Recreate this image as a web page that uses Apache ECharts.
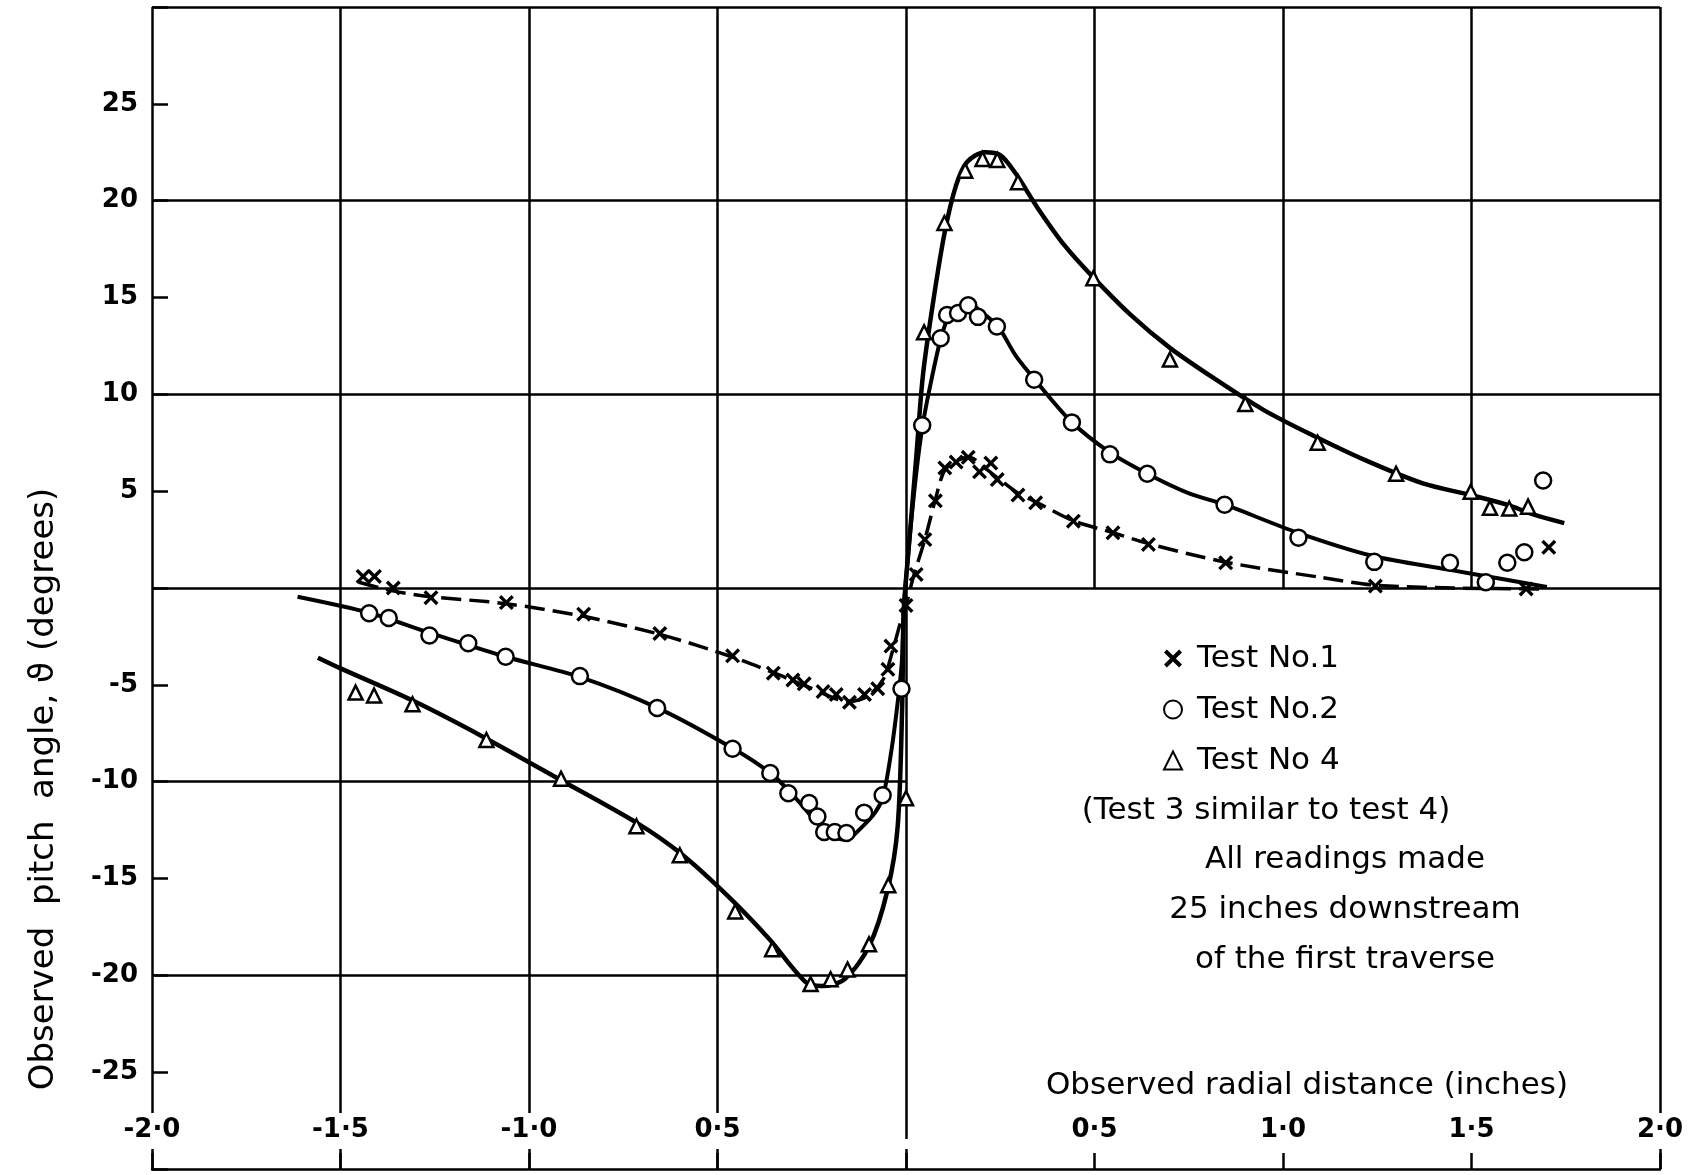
<!DOCTYPE html>
<html>
<head>
<meta charset="utf-8">
<title>Observed pitch angle</title>
<script src="https://cdn.jsdelivr.net/npm/echarts@6/dist/echarts.min.js"></script>
<style>
  html, body { margin: 0; padding: 0; background: #fff; }
  #main { width: 1706px; height: 1175px; }
</style>
</head>
<body>
<div id="main"></div>
<script>
// ---- data (x in inches, y in degrees) ----
var test1Points = [[-1.44,0.6],[-1.41,0.6],[-1.36,0.0],[-1.26,-0.5],[-1.06,-0.75],[-0.855,-1.35],[-0.653,-2.35],
  [-0.46,-3.5],[-0.352,-4.4],[-0.30,-4.75],[-0.27,-4.95],[-0.22,-5.35],[-0.185,-5.5],[-0.15,-5.9],[-0.11,-5.5],
  [-0.075,-5.2],[-0.048,-4.2],[-0.04,-3.0],[0.0,-0.9],[0.027,0.7],[0.05,2.5],[0.078,4.5],[0.103,6.2],[0.133,6.5],
  [0.165,6.75],[0.195,6.0],[0.225,6.45],[0.242,5.6],[0.297,4.8],[0.344,4.4],[0.444,3.45],[0.549,2.85],[0.643,2.25],
  [0.848,1.3],[1.245,0.1],[1.645,-0.05],[1.705,2.1]];
var test2Points = [[-1.424,-1.3],[-1.372,-1.55],[-1.264,-2.45],[-1.161,-2.85],[-1.062,-3.55],[-0.865,-4.55],
  [-0.66,-6.2],[-0.46,-8.3],[-0.36,-9.55],[-0.312,-10.6],[-0.257,-11.1],[-0.235,-11.8],[-0.217,-12.6],[-0.189,-12.6],
  [-0.158,-12.65],[-0.111,-11.6],[-0.062,-10.7],[-0.012,-5.2],[0.043,8.4],[0.092,12.9],[0.109,14.1],[0.138,14.2],
  [0.165,14.6],[0.191,14.0],[0.241,13.5],[0.34,10.75],[0.44,8.55],[0.541,6.9],[0.64,5.9],[0.845,4.3],[1.041,2.6],
  [1.242,1.35],[1.443,1.3],[1.538,0.3],[1.595,1.3],[1.64,1.85],[1.69,5.55]];
var test4Points = [[-1.46,-5.4],[-1.411,-5.55],[-1.309,-6.0],[-1.113,-7.85],[-0.915,-9.85],[-0.715,-12.3],[-0.6,-13.8],
  [-0.453,-16.7],[-0.355,-18.65],[-0.253,-20.45],[-0.2,-20.2],[-0.155,-19.7],[-0.098,-18.4],[-0.047,-15.35],[0.0,-10.85],
  [0.048,13.2],[0.102,18.85],[0.157,21.55],[0.203,22.15],[0.242,22.1],[0.297,20.95],[0.497,16.0],[0.70,11.8],
  [0.90,9.5],[1.092,7.5],[1.30,5.9],[1.498,4.97],[1.549,4.14],[1.60,4.1],[1.65,4.2]];

// hand-faired curves
var test1Curve = [[-1.451,0.3],[-1.361,-0.15],[-1.261,-0.45],[-1.065,-0.8],[-0.859,-1.45],[-0.652,-2.4],[-0.462,-3.55],
  [-0.348,-4.4],[-0.255,-5.15],[-0.152,-5.85],[-0.103,-5.6],[-0.06,-4.7],[-0.035,-3.2],[-0.015,-1.8],[0,-0.9],
  [0.02,0.6],[0.05,2.5],[0.077,4.5],[0.103,6.1],[0.138,6.6],[0.168,6.75],[0.209,6.2],[0.242,5.7],[0.297,4.9],
  [0.344,4.45],[0.444,3.47],[0.549,2.86],[0.643,2.29],[0.849,1.33],[1.10,0.55],[1.242,0.15],[1.453,0.0],[1.70,-0.05]];
var test2Curve = [[-1.614,-0.45],[-1.424,-1.28],[-1.266,-2.3],[-1.062,-3.55],[-0.864,-4.6],[-0.658,-6.2],[-0.462,-8.25],
  [-0.357,-9.6],[-0.288,-10.95],[-0.234,-12.15],[-0.19,-12.85],[-0.158,-13.0],[-0.125,-12.5],[-0.082,-11.6],
  [-0.06,-10.7],[-0.038,-8.3],[-0.022,-5.9],[-0.011,-3.8],[-0.006,-1.2],[0.006,1.8],[0.027,5.9],[0.045,8.5],
  [0.068,10.8],[0.092,12.85],[0.115,14.1],[0.144,14.5],[0.168,14.7],[0.197,14.3],[0.244,13.5],[0.291,12.0],
  [0.34,10.8],[0.438,8.6],[0.541,7.0],[0.64,5.9],[0.749,4.9],[0.846,4.3],[1.04,2.85],[1.239,1.65],[1.439,0.95],
  [1.57,0.5],[1.70,0.05]];
var test4Curve = [[-1.56,-3.6],[-1.5,-4.15],[-1.31,-5.8],[-1.125,-7.65],[-0.908,-10.0],[-0.712,-12.15],[-0.598,-13.7],
  [-0.473,-15.9],[-0.364,-18.1],[-0.266,-20.35],[-0.223,-20.55],[-0.163,-20.2],[-0.098,-18.5],[-0.049,-15.6],
  [-0.022,-12.3],[-0.01,-6.0],[-0.006,-1.2],[0.006,1.8],[0.027,6.7],[0.045,11.0],[0.073,14.9],[0.103,18.4],
  [0.133,20.8],[0.162,22.0],[0.209,22.5],[0.25,22.35],[0.291,21.4],[0.35,19.6],[0.42,17.7],[0.496,16.05],
  [0.596,14.1],[0.70,12.4],[0.819,10.8],[0.948,9.2],[1.077,7.9],[1.218,6.6],[1.371,5.4],[1.498,4.8],[1.594,4.3],
  [1.664,3.8],[1.746,3.35]];

var xTicks = [-2, -1.5, -1, -0.5, 0, 0.5, 1, 1.5, 2];
var xTickText = ['-2·0', '-1·5', '-1·0', '0·5', '', '0·5', '1·0', '1·5', '2·0'];

// ruled lines of the graph paper
var fullRows = [30, 20, 10, 0];
var leftRows = [-10, -20];
var fullCols = [-2, -1.5, -1, -0.5, 0, 2];
var upperCols = [0.5, 1, 1.5];

var legendNames = ['Test No.1', 'Test No.2', 'Test No 4'];
var noteLines = ['All readings made', '25 inches downstream', 'of the first traverse'];

var FONT = '"DejaVu Sans", sans-serif';
var crossPath = 'path://M0,1.6 L1.6,0 L5,3.4 L8.4,0 L10,1.6 L6.6,5 L10,8.4 L8.4,10 L5,6.6 L1.6,10 L0,8.4 L3.4,5 Z';

var rules = [];
fullRows.forEach(function (y) { rules.push({ coords: [[-2, y], [2, y]] }); });
leftRows.forEach(function (y) { rules.push({ coords: [[-2, y], [0, y]] }); });
fullCols.forEach(function (x) { rules.push({ coords: [[x, -30], [x, 30]] }); });
upperCols.forEach(function (x) { rules.push({ coords: [[x, 0], [x, 30]] }); });

var chart = echarts.init(document.getElementById('main'));

var option = {
    backgroundColor: '#fff',
    animation: false,
    grid: { left: 152, right: 46, top: 7, bottom: 6 },
    xAxis: {
        type: 'value', min: -2, max: 2, interval: 0.5, z: 5,
        axisLine: { show: true, onZero: false, lineStyle: { color: '#000', width: 2.5 } },
        axisTick: { show: true, inside: true, length: 16, lineStyle: { color: '#000', width: 2.5 } },
        splitLine: { show: false },
        axisLabel: {
            inside: true, margin: 20, color: '#000', fontSize: 26, fontWeight: 'bold', fontFamily: FONT,
            backgroundColor: '#fff', padding: [4, 4, 6, 4],
            showMinLabel: true, showMaxLabel: true,
            formatter: function (v) {
                var i = xTicks.indexOf(Math.round(v * 10) / 10);
                return i < 0 ? '' : xTickText[i];
            }
        }
    },
    yAxis: {
        type: 'value', min: -30, max: 30, interval: 5, z: 5,
        axisLine: { show: false, onZero: false },
        axisTick: { show: true, inside: true, length: 16, lineStyle: { color: '#000', width: 2.5 } },
        splitLine: { show: false },
        axisLabel: {
            margin: 14, color: '#000', fontSize: 26, fontWeight: 'bold', fontFamily: FONT,
            formatter: function (v) {
                if (v === 0 || Math.abs(v) === 30) return '';
                return String(v);
            }
        }
    },
    legend: {
        orient: 'vertical', left: 1158, top: 638,
        itemWidth: 18, itemHeight: 18, itemGap: 20,
        textStyle: { fontSize: 31, fontFamily: FONT, color: '#000', padding: [0, 0, 0, 10] },
        data: legendNames
    },
    graphic: [
        {
            type: 'text', x: 44, y: 789, rotation: Math.PI / 2,
            style: { text: 'Observed  pitch  angle, ϑ (degrees)', font: '34px ' + FONT, fill: '#000',
                     textAlign: 'center', textVerticalAlign: 'middle', align: 'center', verticalAlign: 'middle' }
        },
        {
            type: 'text', x: 1307, y: 1086,
            style: { text: 'Observed radial distance (inches)', font: '31px ' + FONT, fill: '#000',
                     textAlign: 'center', textVerticalAlign: 'middle', align: 'center', verticalAlign: 'middle' }
        },
        {
            type: 'text', x: 1266, y: 811,
            style: { text: '(Test 3 similar to test 4)', font: '31px ' + FONT, fill: '#000',
                     textAlign: 'center', textVerticalAlign: 'middle', align: 'center', verticalAlign: 'middle' }
        }
    ].concat(noteLines.map(function (t, i) {
        return {
            type: 'text', x: 1345, y: 860 + i * 50,
            style: { text: t, font: '31px ' + FONT, fill: '#000',
                     textAlign: 'center', textVerticalAlign: 'middle', align: 'center', verticalAlign: 'middle' }
        };
    })),
    series: [
        {
            name: 'rules', type: 'lines', coordinateSystem: 'cartesian2d', silent: true, z: 1,
            lineStyle: { color: '#000', width: 2.5, opacity: 1 },
            data: rules
        },
        {
            name: 'curve1', type: 'line', data: test1Curve, showSymbol: false, smooth: 0.3, z: 3,
            lineStyle: { color: '#000', width: 3.5, type: [20, 8] }
        },
        {
            name: 'curve2', type: 'line', data: test2Curve, showSymbol: false, smooth: 0.3, z: 3,
            lineStyle: { color: '#000', width: 4 }
        },
        {
            name: 'curve4', type: 'line', data: test4Curve, showSymbol: false, smooth: 0.3, z: 3,
            lineStyle: { color: '#000', width: 4.5 }
        },
        {
            name: legendNames[0], type: 'scatter', data: test1Points, symbol: crossPath, symbolSize: 15, z: 4,
            itemStyle: { color: '#000', opacity: 1 }
        },
        {
            name: legendNames[1], type: 'scatter', data: test2Points, symbol: 'circle', symbolSize: 16, z: 4,
            itemStyle: { color: '#fff', borderColor: '#000', borderWidth: 2.5, opacity: 1 }
        },
        {
            name: legendNames[2], type: 'scatter', data: test4Points, symbol: 'triangle', symbolSize: 14, z: 4,
            itemStyle: { color: '#fff', borderColor: '#000', borderWidth: 2.5, opacity: 1 }
        }
    ]
};
chart.setOption(option);
</script>
</body>
</html>
